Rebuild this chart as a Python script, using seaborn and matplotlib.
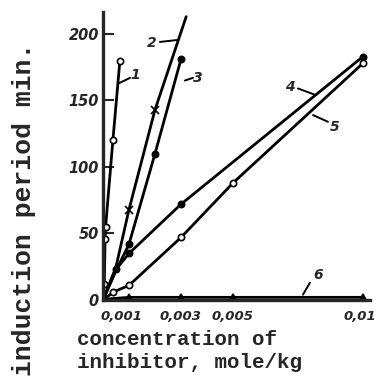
import matplotlib
matplotlib.use("Agg")
import matplotlib.pyplot as plt
import matplotlib.transforms as mtransforms
import seaborn as sns
import pandas as pd

# ---- data ----
x1 = [0, 0.00005, 0.00008, 0.0001, 0.00038, 0.00065]
y1 = [0, 12, 46, 55, 120, 180]
x2 = [0, 0.0005, 0.001, 0.002, 0.0032]
y2 = [0, 25, 68, 143, 213]
x3 = [0, 0.0005, 0.001, 0.002, 0.003]
y3 = [0, 22, 42, 110, 181]
x4 = [0, 0.0005, 0.001, 0.003, 0.01]
y4 = [0, 23, 35, 72, 183]
x5 = [0, 0.0004, 0.001, 0.003, 0.005, 0.01]
y5 = [0, 6, 11, 47, 88, 178]
x6 = [0, 0.001, 0.003, 0.005, 0.01]
y6 = [0.5, 2, 2, 2, 2]

xticks = [0.001, 0.003, 0.005, 0.01]
xticklabels = ["0,001", "0,003", "0,005", "0,01"]
yticks = [0, 50, 100, 150, 200]
yticklabels = ["0", "50", "100", "150", "200"]

series_labels = ["1", "2", "3", "4", "5", "6"]

sns.set_style("ticks")
plt.rcParams['font.family'] = ['DejaVu Sans']

fig = plt.figure(figsize=(3.77, 3.82), dpi=100)
ax = fig.add_axes([103/377, 1-300/382, 267/377, 288/382])

def draw(x, y, marker, mfc, markevery=None, ms=4.5):
    df = pd.DataFrame({"x": x, "y": y})
    kw = dict(marker=marker, markersize=ms, markerfacecolor=mfc,
              markeredgecolor="black", markeredgewidth=1.2)
    if markevery is not None:
        kw["markevery"] = markevery
    sns.lineplot(data=df, x="x", y="y", ax=ax, color="black", lw=2.0,
                 sort=False, estimator=None, **kw)

draw(x1, y1, "o", "white", markevery=[1, 2, 3, 4, 5])
draw(x2, y2, "x", "black", markevery=[2, 3], ms=6)
draw(x3, y3, "o", "black", markevery=[2, 3, 4])
draw(x4, y4, "o", "black", markevery=[1, 2, 3, 4])
draw(x5, y5, "o", "white", markevery=[1, 2, 3, 4, 5])
draw(x6, y6, "^", "black", markevery=[1, 2, 3, 4], ms=4)

ax.set_xlim(0, 0.01027)
ax.set_ylim(0, 216.5)
for s in ["top", "right"]:
    ax.spines[s].set_visible(False)
for s in ["left", "bottom"]:
    ax.spines[s].set_linewidth(2.4)

ax.set_xticks(xticks)
ax.set_xticklabels(xticklabels, fontsize=9.5, fontstyle="italic", fontweight="bold")
ax.set_yticks(yticks)
ax.set_yticklabels(yticklabels, fontsize=10.5, fontstyle="italic", fontweight="bold")
ax.tick_params(axis="x", length=0, pad=7)
ax.tick_params(axis="y", direction="in", length=8, width=1.5, pad=3)
ax.set_xlabel("")
ax.set_ylabel("")

# nudge first and last x tick labels like the reference
xt = ax.get_xticklabels()
xt[0].set_transform(xt[0].get_transform() +
                    mtransforms.ScaledTranslation(-7/100, 0, fig.dpi_scale_trans))
xt[-1].set_transform(xt[-1].get_transform() +
                     mtransforms.ScaledTranslation(-3/100, 0, fig.dpi_scale_trans))

# series labels with leader lines
lab_pos = [(0.00123, 169), (0.00188, 193), (0.00365, 167),
           (0.0072, 160), (0.00892, 130), (0.00827, 19)]
leaders = [((0.00062, 163), (0.00104, 167)),
           ((0.00219, 194), (0.00288, 195.5)),
           ((0.00315, 165), (0.00346, 167)),
           ((0.0075, 159), (0.00819, 154)),
           ((0.00808, 139), (0.00865, 134)),
           ((0.00769, 4), (0.00796, 13))]
for lab, (tx, ty), ((ax0, ay0), (ax1_, ay1)) in zip(series_labels, lab_pos, leaders):
    ax.text(tx, ty, lab, fontsize=10, fontstyle="italic", fontweight="bold",
            ha="center", va="center")
    ax.plot([ax0, ax1_], [ay0, ay1], color="black", lw=1.4)

mono = ["Liberation Mono", "DejaVu Sans Mono"]
fig.text(77/377, 1-345/382, "concentration of", family=mono, fontweight="bold",
         fontsize=15, ha="left", va="baseline")
fig.text(77/377, 1-368/382, "inhibitor, mole/kg", family=mono, fontweight="bold",
         fontsize=15, ha="left", va="baseline")
fig.text(24/377, 1-209/382, "induction period min.", family=mono, fontweight="bold",
         fontsize=19, rotation=90, ha="center", va="center")

fig.savefig("out.png", dpi=100)
